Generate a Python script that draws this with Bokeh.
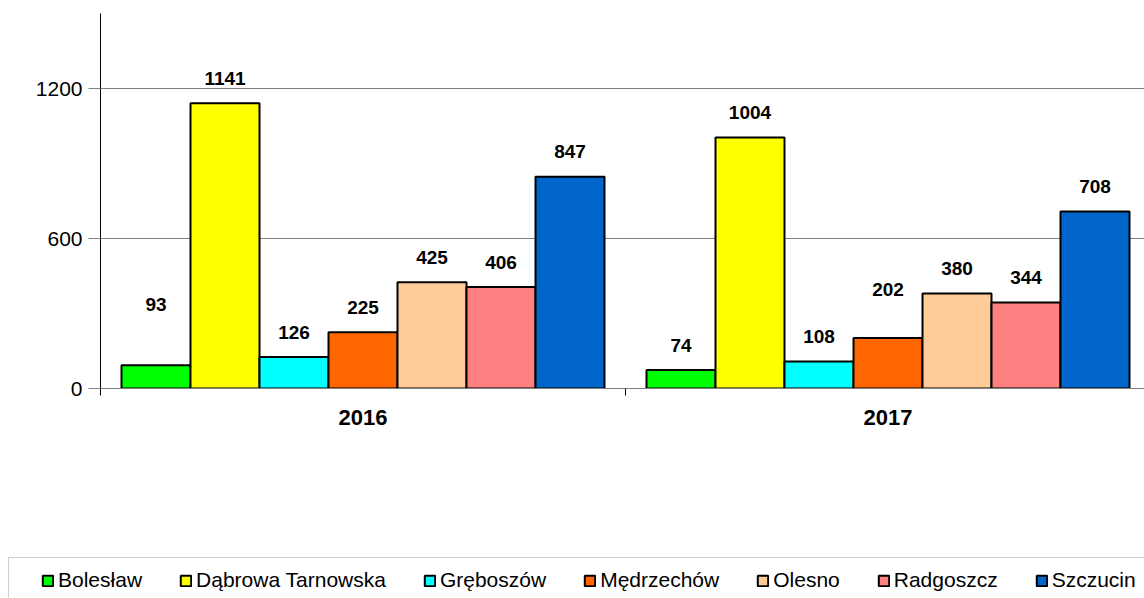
from bokeh.plotting import figure
from bokeh.models import (Range1d, FixedTicker, Legend, LegendItem, ColumnDataSource,
                          BoxAnnotation)
from bokeh.layouts import column
from bokeh.embed import file_html
from bokeh.resources import INLINE
from bokeh.core.properties import value

years = ["2016", "2017"]
series_names = ["Bolesław", "Dąbrowa Tarnowska", "Gręboszów", "Mędrzechów",
                "Olesno", "Radgoszcz", "Szczucin"]
boleslaw = [93, 74]
dabrowa_tarnowska = [1141, 1004]
greboszow = [126, 108]
medrzechow = [225, 202]
olesno = [425, 380]
radgoszcz = [406, 344]
szczucin = [847, 708]
series_values = [boleslaw, dabrowa_tarnowska, greboszow, medrzechow,
                 olesno, radgoszcz, szczucin]
y_ticks = [0, 600, 1200]

colors = ["#00FF00", "#FFFF00", "#00FFFF", "#FF6600", "#FFCC99", "#FF8080", "#0066CC"]
# extra upward shift (px) of a few value labels, as placed in the original
label_extra_lift = {(0, 0): 36, (3, 1): 24}

FONT = "Liberation Sans"
W, H = 1144, 540
LEG_H = 58
LEFT, TOP, BOTTOM = 100, 13, 152
CAT_PX = 525.0
frame_w = W - LEFT
x_end = frame_w / CAT_PX

p = figure(width=W, height=H, output_backend="svg", toolbar_location=None,
           x_range=Range1d(0, x_end), y_range=Range1d(0, 1500),
           min_border_left=LEFT, min_border_right=0, min_border_top=TOP,
           min_border_bottom=BOTTOM)
p.outline_line_color = None
p.background_fill_color = "white"
p.border_fill_color = "white"
p.frame_align = False

group_w = 0.92
bw = group_w / len(series_names)
start = (1 - group_w) / 2

lx, ly, lt, loff = [], [], [], []
for i, (name, vals) in enumerate(zip(series_names, series_values)):
    xs = [j + start + (i + 0.5) * bw for j in range(len(years))]
    src = ColumnDataSource(dict(x=xs, top=vals))
    p.vbar(x="x", top="top", width=bw, source=src, fill_color=colors[i],
           line_color="black", line_width=2)
    for j, v in enumerate(vals):
        lx.append(xs[j]); ly.append(v); lt.append(str(v))
        loff.append(-25 - label_extra_lift.get((i, j), 0))

lsrc = ColumnDataSource(dict(x=lx, y=ly, t=lt, off=loff))
p.text(x="x", y="y", text="t", y_offset="off", source=lsrc,
       text_font=value(FONT), text_font_style="bold", text_font_size="19px",
       text_align="center", text_baseline="alphabetic", text_color="black")

# axes
xa = p.xaxis[0]
xa.ticker = FixedTicker(ticks=[k + 0.5 for k in range(len(years))],
                        minor_ticks=list(range(len(years) + 1)))
xa.major_label_overrides = {k + 0.5: y for k, y in enumerate(years)}
xa.major_tick_line_color = None
xa.minor_tick_out = 7
xa.minor_tick_in = 0
xa.minor_tick_line_color = "black"
xa.axis_line_color = "#808080"
xa.major_label_text_font = FONT
xa.major_label_text_font_style = "bold"
xa.major_label_text_font_size = "22px"
xa.major_label_text_color = "black"
xa.major_label_standoff = 14

ya = p.yaxis[0]
ya.ticker = FixedTicker(ticks=y_ticks, minor_ticks=[])
ya.major_tick_out = 12
ya.major_tick_in = 0
ya.major_tick_line_color = "#808080"
ya.axis_line_color = "black"
ya.major_label_text_font = FONT
ya.major_label_text_font_size = "21px"
ya.major_label_text_color = "black"
ya.major_label_standoff = 6

p.xgrid.visible = False
p.ygrid.grid_line_color = "#808080"
p.ygrid.grid_line_width = 1

# legend strip (separate canvas so the legend box can run off the edges)
lg = figure(width=W, height=LEG_H, output_backend="svg", toolbar_location=None,
            x_range=Range1d(0, W), y_range=Range1d(0, LEG_H),
            x_axis_type=None, y_axis_type=None,
            min_border_left=0, min_border_right=0, min_border_top=0,
            min_border_bottom=0)
lg.outline_line_color = None
lg.xgrid.visible = False
lg.ygrid.visible = False
lg.background_fill_color = "white"
lg.border_fill_color = "white"
lg.frame_align = False

# legend frame: only its top and left edges fall inside the picture
lg.add_layout(BoxAnnotation(left=8, right=W + 60, top=LEG_H - 17, bottom=-60,
                            fill_alpha=0, line_color="#606060", line_width=1))

items = []
for i, name in enumerate(series_names):
    # legend key carrier: drawn muted (fully transparent), only its key shows
    r = lg.vbar(x=[W / 2], bottom=[0.0], top=[1.0], width=1,
                fill_color=colors[i], line_color="black", line_width=2,
                muted_fill_alpha=0, muted_line_alpha=0)
    r.muted = True
    items.append(LegendItem(label=name, renderers=[r]))

legend = Legend(items=items, orientation="horizontal", location=(41, 6),
                glyph_width=13, glyph_height=13, label_standoff=4, spacing=37,
                padding=0, margin=0, click_policy="none",
                label_text_font=FONT, label_text_font_size="21px",
                label_text_color="black",
                border_line_color=None,
                background_fill_alpha=0)
lg.add_layout(legend, "center")

layout = column(p, lg, spacing=0)
open("out.html", "w").write(file_html(layout, INLINE))
